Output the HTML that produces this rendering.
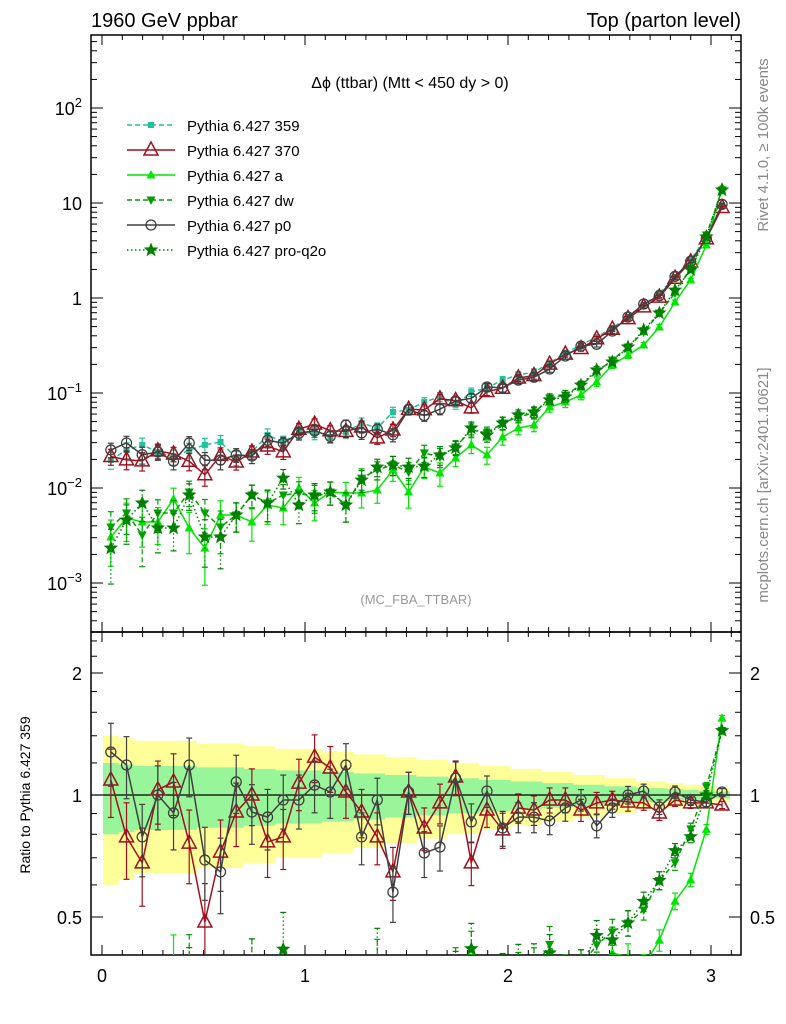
<!DOCTYPE html>
<html><head><meta charset="utf-8"><style>
html,body{margin:0;padding:0;background:#fff;width:786px;height:1024px;overflow:hidden}
svg{display:block;font-family:"Liberation Sans",sans-serif}
</style></head><body>
<svg id="c" width="786" height="1024" viewBox="0 0 786 1024">
<defs>
<clipPath id="cm"><rect x="91" y="35" width="650" height="597"/></clipPath>
<clipPath id="cr"><rect x="91" y="632" width="650" height="323"/></clipPath>
</defs>
<g id="band" clip-path="url(#cr)"></g>
<g id="axes"></g>
<g id="mainMarks" clip-path="url(#cm)"></g>
<g id="ratioMarks" clip-path="url(#cr)"></g>
<text x="91" y="27" font-size="20">1960 GeV ppbar</text>
<text x="741" y="27" font-size="20" text-anchor="end">Top (parton level)</text>
<text x="410" y="88" font-size="16" text-anchor="middle">Δϕ (ttbar) (Mtt &lt; 450 dy &gt; 0)</text>
<text x="416" y="604" font-size="13" fill="#999" text-anchor="middle">(MC_FBA_TTBAR)</text>
<text transform="translate(768,145) rotate(-90)" font-size="15" fill="#888" text-anchor="middle">Rivet 4.1.0, ≥ 100k events</text>
<text transform="translate(768,485) rotate(-90)" font-size="15" fill="#888" text-anchor="middle">mcplots.cern.ch [arXiv:2401.10621]</text>
<text transform="translate(30,795) rotate(-90)" font-size="14" text-anchor="middle">Ratio to Pythia 6.427 359</text>
<g id="legend"></g>
</svg>
<script>
const ref359=[0.0197,0.0251,0.0284,0.0239,0.0212,0.0251,0.0284,0.0305,0.0207,0.0239,0.0361,0.0305,0.0388,0.0379,0.0344,0.0388,0.0483,0.0428,0.0631,0.0662,0.0804,0.0908,0.075,0.1025,0.113,0.137,0.155,0.166,0.207,0.264,0.320,0.389,0.483,0.631,0.844,1.13,1.66,2.51,4.39,9.5];
const relErr=[0.2,0.19,0.18,0.18,0.18,0.18,0.17,0.17,0.17,0.16,0.16,0.15,0.15,0.15,0.14,0.14,0.13,0.13,0.12,0.12,0.11,0.11,0.10,0.10,0.09,0.09,0.08,0.08,0.07,0.07,0.06,0.06,0.05,0.05,0.04,0.04,0.035,0.03,0.025,0.02];
const ratio370=[1.089,0.788,0.68,1.03,1.077,0.761,0.486,0.723,0.908,1.0,0.766,0.788,1.07,1.24,1.166,1.017,0.908,0.788,0.646,1.017,0.829,0.956,1.108,0.68,0.918,0.82,0.929,0.918,0.972,0.972,0.918,0.956,0.972,0.961,0.956,0.903,0.972,0.956,0.956,0.945];
const ratioP0=[1.277,1.186,0.788,1.0,0.903,1.186,0.691,0.646,1.077,0.908,0.882,0.972,0.972,1.058,1.017,1.186,0.788,0.972,0.576,1.017,0.719,0.744,1.101,0.858,1.023,0.829,0.882,0.882,0.863,0.929,0.972,0.839,0.929,1.0,1.023,0.934,1.017,0.972,0.961,1.017];
const valA=[0.00305,0.00483,0.00439,0.00439,0.00766,0.00379,0.00233,0.0052,0.0052,0.00439,0.00662,0.00616,0.01,0.00695,0.00908,0.00886,0.00886,0.00953,0.0155,0.00908,0.0166,0.0144,0.0207,0.0284,0.0223,0.0344,0.0428,0.0461,0.0713,0.0804,0.0953,0.131,0.197,0.251,0.32,0.495,0.908,1.55,3.61,14.7];
const valDW=[0.00388,0.00546,0.0032,0.00546,0.00546,0.00908,0.00546,0.00388,0.0052,0.00844,0.00695,0.00844,0.00886,0.00804,0.00908,0.00662,0.0127,0.0155,0.0175,0.0147,0.0234,0.0212,0.027,0.0408,0.0379,0.0483,0.0559,0.0616,0.0886,0.0953,0.121,0.166,0.222,0.305,0.439,0.695,1.13,2.07,4.6,13.7];
const valPro=[0.00233,0.0046,0.00695,0.00379,0.00379,0.00844,0.00305,0.00305,0.0052,0.00844,0.00695,0.0127,0.00662,0.00844,0.00908,0.00662,0.0121,0.0166,0.0175,0.0166,0.017,0.0223,0.0264,0.0428,0.0361,0.0483,0.0587,0.0631,0.0844,0.0908,0.121,0.175,0.212,0.305,0.461,0.695,1.21,1.98,4.39,13.7];
const xTicks=[0,1,2,3];
const mainTickExp=[-3,-2,-1,0,1,2];
const ratioTicks=[0.5,1,2];

const NS="http://www.w3.org/2000/svg";
const X0=0.0436,BW=0.0772;
const xp=x=>102+x*203;
const yp=v=>298-95*Math.log10(v);
const yr=r=>795-122*Math.log2(r);
const clampY=y=>Math.max(20,Math.min(990,y));
function mk(tag,attrs,parent){const e=document.createElementNS(NS,tag);for(const k in attrs)e.setAttribute(k,attrs[k]);parent.appendChild(e);return e;}
const axes=document.getElementById('axes'),band=document.getElementById('band'),mm=document.getElementById('mainMarks'),rm=document.getElementById('ratioMarks'),leg=document.getElementById('legend');
const binX=i=>X0+i*BW;

const pts2u=[],pts2d=[],pts1u=[],pts1d=[];
ref359.forEach((v,i)=>{const a=xp(binX(i)-BW/2),b=xp(binX(i)+BW/2);const e=relErr[i];
pts2u.push([a,yr(1+2*e)],[b,yr(1+2*e)]);pts2d.push([a,yr(1-2*e)],[b,yr(1-2*e)]);
pts1u.push([a,yr(1+e)],[b,yr(1+e)]);pts1d.push([a,yr(1-e)],[b,yr(1-e)]);});
const poly=(u,d)=>u.concat(d.slice().reverse()).map(p=>p.join(',')).join(' ');
let yb=mk('polygon',{points:poly(pts2u,pts2d),fill:'#ffff99'},band);


let gb=mk('polygon',{points:poly(pts1u,pts1d),fill:'#99f599'},band);



[[35,597],[632,323]].forEach(([y,h],k)=>{const r=mk('rect',{x:91,y:y,width:650,height:h,fill:'none',stroke:'#000','stroke-width':1.5},axes);

});
let ref1=mk('line',{x1:91,x2:741,y1:yr(1),y2:yr(1),stroke:'#000','stroke-width':1.2},axes);



for(let t=0;t<=31;t++){const x=xp(t/10);const L=t%10===0?10:5;
[[632,-1],[35,1],[955,-1],[632,1]].forEach(([y,s])=>mk('line',{x1:x,x2:x,y1:y,y2:y+s*L,stroke:'#000'},axes));}
xTicks.forEach(t=>{const tx=mk('text',{x:xp(t),y:982,'font-size':18,'text-anchor':'middle'},axes);tx.textContent=t;

});
for(let e=-4;e<=2;e++){for(let m=1;m<10;m++){const v=m*Math.pow(10,e);const y=yp(v);if(y<35||y>632)continue;const L=m===1?12:6;
mk('line',{x1:91,x2:91+L,y1:y,y2:y,stroke:'#000'},axes);mk('line',{x1:741,x2:741-L,y1:y,y2:y,stroke:'#000'},axes);}}
mainTickExp.forEach(e=>{const y=yp(Math.pow(10,e));let tx=mk('text',{x:82,y:y+7,'font-size':18,'text-anchor':'end'},axes);
if(e===0)tx.textContent='1';else if(e===1)tx.textContent='10';else{tx.textContent='10';const s=mk('tspan',{dy:-8,'font-size':13},tx);s.textContent=String(e).replace('-','−');}

});
[0.4,0.5,0.6,0.7,0.8,0.9,1,1.2,1.4,1.6,1.8,2,2.2,2.4].forEach(r=>{const y=yr(r);if(y<632||y>955)return;const L=(r===0.5||r===1||r===2)?12:6;
mk('line',{x1:91,x2:91+L,y1:y,y2:y,stroke:'#000'},axes);mk('line',{x1:741,x2:741-L,y1:y,y2:y,stroke:'#000'},axes);});
ratioTicks.forEach(r=>{[[82,'end'],[750,'start']].forEach(([x,a])=>{const tx=mk('text',{x:x,y:yr(r)+7,'font-size':18,'text-anchor':a},axes);tx.textContent=r;

});});

function marker(type,x,y,col,g){
 if(type==='sq')return mk('rect',{x:x-3,y:y-3,width:6,height:6,fill:col},g);
 if(type==='otri')return mk('polygon',{points:`${x},${y-8} ${x-7},${y+5} ${x+7},${y+5}`,fill:'#fff','fill-opacity':0,stroke:col,'stroke-width':1.5},g);
 if(type==='tri')return mk('polygon',{points:`${x},${y-5} ${x-4.5},${y+3.5} ${x+4.5},${y+3.5}`,fill:col},g);
 if(type==='dtri')return mk('polygon',{points:`${x},${y+5} ${x-4.5},${y-3.5} ${x+4.5},${y-3.5}`,fill:col},g);
 if(type==='circ')return mk('circle',{cx:x,cy:y,r:5,fill:'none',stroke:col,'stroke-width':1.3},g);
 if(type==='star'){let p=[];for(let k=0;k<10;k++){const r=k%2?2.8:6.5,a=-Math.PI/2+k*Math.PI/5;p.push((x+r*Math.cos(a)).toFixed(1)+','+(y+r*Math.sin(a)).toFixed(1));}
  return mk('polygon',{points:p.join(' '),fill:col,stroke:col,'stroke-width':0.8},g);}
}
const series=[
 {name:'Pythia 6.427 359',key:'359',vals:ref359,col:'#20c29a',m:'sq',dash:'5,3'},
 {name:'Pythia 6.427 370',key:'370',vals:ref359.map((v,i)=>v*ratio370[i]),col:'#a0101e',m:'otri',dash:''},
 {name:'Pythia 6.427 a',key:'a',vals:valA,col:'#00e600',m:'tri',dash:''},
 {name:'Pythia 6.427 dw',key:'dw',vals:valDW,col:'#00a000',m:'dtri',dash:'5,3'},
 {name:'Pythia 6.427 p0',key:'p0',vals:ref359.map((v,i)=>v*ratioP0[i]),col:'#404040',m:'circ',dash:''},
 {name:'Pythia 6.427 pro-q2o',key:'pro-q2o',vals:valPro,col:'#008000',m:'star',dash:'1.5,2.5'}
];
function drawSeries(s,g,yf,vals,errs){
 const sg=mk('g',{},g);
 
 
 const pts=vals.map((v,i)=>[xp(binX(i)),clampY(yf(v))]);
 const pl=mk('polyline',{points:pts.map(p=>p.join(',')).join(' '),fill:'none',stroke:s.col,'stroke-width':1.5,'stroke-dasharray':s.dash},sg);
 
 
 vals.forEach((v,i)=>{const x=pts[i][0];const e=errs[i];
  const yt=clampY(yf(v*(1+e))),yb2=clampY(yf(Math.max(v*(1-e),1e-6)));
  mk('line',{x1:x,x2:x,y1:yt,y2:yb2,stroke:s.col,'stroke-width':1.2,'stroke-dasharray':s.dash},sg);
  [yt,yb2].forEach(yy=>mk('line',{x1:x-3,x2:x+3,y1:yy,y2:yy,stroke:s.col,'stroke-width':1.2},sg));
  const m=marker(s.m,x,pts[i][1],s.col,sg);
  
  });
}
series.forEach(s=>{
 const errs=s.vals.map((v,i)=>Math.min(relErr[i]*Math.sqrt(ref359[i]/v),0.9));
 drawSeries(s,mm,yp,s.vals,errs);
 if(s.key!=='359'){const rv=s.vals.map((v,i)=>v/ref359[i]);
  const rerr=errs.map(e=>Math.min(e,0.25));
  drawSeries(s,rm,yr,rv,rerr);}
});
series.forEach((s,k)=>{const y=125+k*25;const g=mk('g',{},leg);
 
 
 mk('line',{x1:127,x2:175,y1:y,y2:y,stroke:s.col,'stroke-width':1.5,'stroke-dasharray':s.dash},g);
 marker(s.m,151,y,s.col,g);
 const t=mk('text',{x:187,y:y+6,'font-size':15},g);t.textContent=s.name;});
</script>
</body></html>
